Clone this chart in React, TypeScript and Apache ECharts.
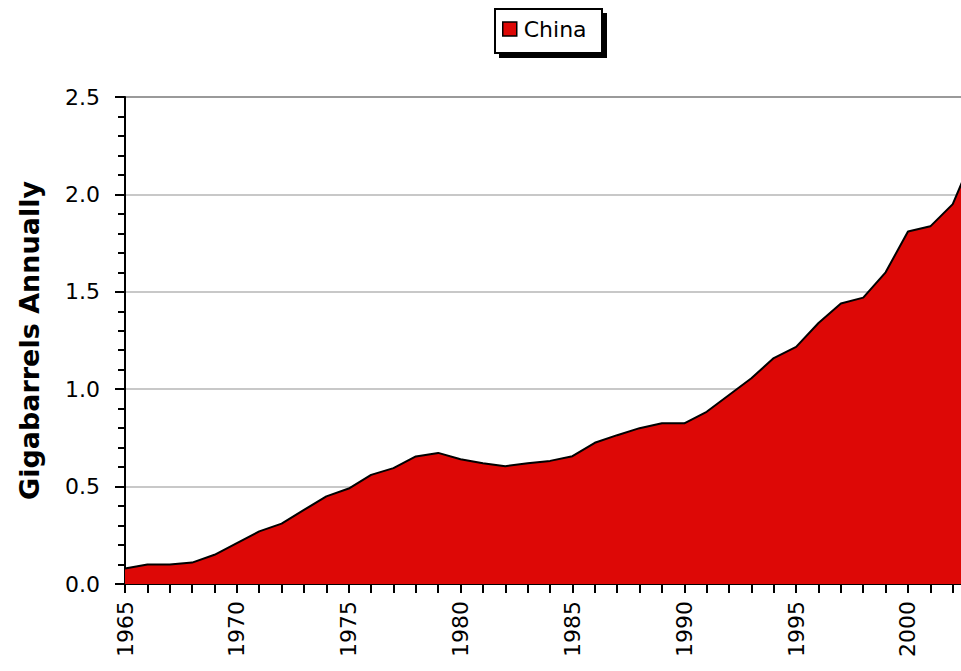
import React, { useEffect, useRef } from "react";
import * as echarts from "echarts";

const years: number[] = [
  1965, 1966, 1967, 1968, 1969, 1970, 1971, 1972, 1973, 1974,
  1975, 1976, 1977, 1978, 1979, 1980, 1981, 1982, 1983, 1984,
  1985, 1986, 1987, 1988, 1989, 1990, 1991, 1992, 1993, 1994,
  1995, 1996, 1997, 1998, 1999, 2000, 2001, 2002, 2003,
];
const chinaValues: number[] = [
  0.08, 0.1, 0.1, 0.11, 0.15, 0.21, 0.27, 0.31, 0.38, 0.45,
  0.49, 0.56, 0.595, 0.655, 0.673, 0.64, 0.62, 0.605, 0.62, 0.632,
  0.656, 0.725, 0.764, 0.8, 0.825, 0.825, 0.884, 0.97, 1.056, 1.16,
  1.217, 1.34, 1.44, 1.47, 1.6, 1.81, 1.836, 1.95, 2.22,
];
const yTickLabels: string[] = ["0.0", "0.5", "1.0", "1.5", "2.0", "2.5"];
const seriesName = "China";
const yAxisTitle = "Gigabarrels Annually";

const FONT = "DejaVu Sans";

export default function App() {
  const ref = useRef<HTMLDivElement>(null);
  useEffect(() => {
    if (!ref.current) return;
    const chart = echarts.init(ref.current, undefined, { renderer: "svg" });
    chart.setOption({
      animation: false,
      backgroundColor: "#ffffff",
      graphic: [
        { type: "rect", shape: { x: 499, y: 13, width: 108, height: 45 }, style: { fill: "#000" }, z: 0 },
        { type: "rect", shape: { x: 495, y: 9, width: 107, height: 44 }, style: { fill: "#fff", stroke: "#000", lineWidth: 2 }, z: 1 },
      ],
      legend: {
        left: 496,
        top: 14,
        padding: [4, 6, 4, 6],
        data: [{ name: seriesName, icon: "rect" }],
        itemWidth: 14,
        itemHeight: 14,
        itemGap: 6,
        z: 10,
        itemStyle: { color: "#dd0806", borderColor: "#000", borderWidth: 1.5 },
        textStyle: { fontFamily: FONT, fontSize: 22, color: "#000", padding: [0, 0, 0, 2] },
      },
      grid: { left: 125, right: 0, top: 97, bottom: 87, containLabel: false },
      xAxis: {
        type: "value",
        min: 1965,
        max: 2002.37,
        interval: 1,
        axisLine: { show: true, lineStyle: { color: "#000", width: 2 } },
        axisTick: { show: true, length: 9, lineStyle: { color: "#000", width: 2 } },
        splitLine: { show: false },
        axisLabel: {
          rotate: 90,
          margin: 17,
          fontFamily: FONT,
          fontSize: 22,
          color: "#000",
          showMaxLabel: false,
          formatter: (v: number) => (Math.abs(v % 5) < 1e-6 ? String(Math.round(v)) : ""),
        },
      },
      yAxis: {
        type: "value",
        min: 0,
        max: 2.5,
        interval: 0.5,
        name: yAxisTitle,
        nameLocation: "middle",
        nameGap: 82,
        nameTextStyle: { fontFamily: FONT, fontSize: 27, fontWeight: "bold", color: "#000" },
        axisLine: { show: true, lineStyle: { color: "#000", width: 2 } },
        axisTick: { show: true, length: 10, lineStyle: { color: "#000", width: 2 } },
        minorTick: { show: true, splitNumber: 5, length: 7, lineStyle: { color: "#000", width: 2 } },
        splitLine: {
          show: true,
          lineStyle: { color: ["#c8c8c8", "#c8c8c8", "#c8c8c8", "#c8c8c8", "#c8c8c8", "#9a9a9a"], width: 2 },
        },
        axisLabel: {
          margin: 25,
          fontFamily: FONT,
          fontSize: 22,
          color: "#000",
          formatter: (v: number) => yTickLabels[Math.round(v / 0.5)] ?? v.toFixed(1),
        },
      },
      series: [
        {
          name: seriesName,
          type: "line",
          data: years.map((y, i) => [y, chinaValues[i]]),
          showSymbol: false,
          symbol: "none",
          lineStyle: { color: "#000", width: 2 },
          itemStyle: { color: "#dd0806" },
          areaStyle: { color: "#dd0806", opacity: 1 },
          z: 3,
        },
      ],
    });
    return () => chart.dispose();
  }, []);
  return (
    <div
      ref={ref}
      style={{ position: "fixed", left: 0, top: 0, width: 961, height: 671 }}
    />
  );
}
